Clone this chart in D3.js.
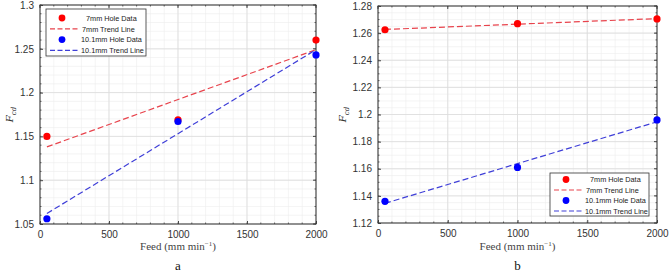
<!DOCTYPE html>
<html><head><meta charset="utf-8">
<script src="https://cdn.jsdelivr.net/npm/d3@7"></script>
<style>body{margin:0;background:#fff}svg{display:block}</style>
</head><body>
<svg id="c" width="669" height="272"></svg>
<script>
const feeds = [50, 1000, 2000];
const trendX = [50, 2000];
// panel a
const a7 = [1.150, 1.169, 1.260];
const a10 = [1.056, 1.167, 1.243];
const a7Trend = [1.138, 1.249];
const a10Trend = [1.062, 1.249];
// panel b
const b7 = [1.2625, 1.267, 1.2705];
const b10 = [1.136, 1.161, 1.196];
const b7Trend = [1.2627, 1.2707];
const b10Trend = [1.1345, 1.1946];
const xTicks = [0, 500, 1000, 1500, 2000];
const aYTicks = [1.05, 1.1, 1.15, 1.2, 1.25, 1.3];
const bYTicks = [1.12, 1.14, 1.16, 1.18, 1.2, 1.22, 1.24, 1.26, 1.28];
const legendLabels = ["7mm Hole Data", "7mm Trend Line", "10.1mm Hole Data", "10.1mm Trend Line"];
const panelLabels = ["a", "b"];

const RED = "#ff0000", BLUE = "#0000ff", RED_T = "#e8434c", BLUE_T = "#3f3fd8";
const svg = d3.select("#c");

function panel(opt) {
  const g = svg.append("g");
  const x = d3.scaleLinear().domain([0, 2000]).range([opt.x0, opt.x1]);
  const y = d3.scaleLinear().domain(opt.yDom).range([opt.y1, opt.y0]);
  g.append("rect").attr("x", opt.x0).attr("y", opt.y0).attr("width", opt.x1 - opt.x0).attr("height", opt.y1 - opt.y0).attr("fill", "#fff");
  const xMinor = d3.range(0, 2001, 100);
  const yMinor = d3.range(opt.yDom[0], opt.yDom[1] + 1e-9, opt.yMinor);
  g.selectAll(".xm").data(xMinor).join("line").attr("x1", d => x(d)).attr("x2", d => x(d)).attr("y1", opt.y0).attr("y2", opt.y1).attr("stroke", "#ececec").attr("stroke-width", 0.6);
  g.selectAll(".ym").data(yMinor).join("line").attr("y1", d => y(d)).attr("y2", d => y(d)).attr("x1", opt.x0).attr("x2", opt.x1).attr("stroke", "#ececec").attr("stroke-width", 0.6);
  g.selectAll(".xM").data(xTicks).join("line").attr("x1", d => x(d)).attr("x2", d => x(d)).attr("y1", opt.y0).attr("y2", opt.y1).attr("stroke", "#dcdcdc").attr("stroke-width", 0.8);
  g.selectAll(".yM").data(opt.yTicks).join("line").attr("y1", d => y(d)).attr("y2", d => y(d)).attr("x1", opt.x0).attr("x2", opt.x1).attr("stroke", "#dcdcdc").attr("stroke-width", 0.8);
  const ax = d3.axisBottom(x).tickValues(xTicks).tickSize(-3).tickPadding(7).tickFormat(d3.format("d"));
  const gx = g.append("g").attr("transform", `translate(0,${opt.y1})`).call(ax);
  const ay = d3.axisLeft(y).tickValues(opt.yTicks).tickSize(-3).tickPadding(6).tickFormat(d3.format("~g"));
  const gy = g.append("g").attr("transform", `translate(${opt.x0},0)`).call(ay);
  [gx, gy].forEach(s => {
    s.select(".domain").remove();
    s.selectAll("line").attr("stroke", "#444");
    s.selectAll("text").attr("font-family", "Liberation Sans, Arial, sans-serif").attr("font-size", 10).attr("fill", "#333");
  });
  g.selectAll(".tt").data(xTicks).join("line").attr("x1", d => x(d)).attr("x2", d => x(d)).attr("y1", opt.y0).attr("y2", opt.y0 + 3).attr("stroke", "#444");
  g.selectAll(".rt").data(opt.yTicks).join("line").attr("y1", d => y(d)).attr("y2", d => y(d)).attr("x1", opt.x1).attr("x2", opt.x1 - 3).attr("stroke", "#444");
  g.selectAll(".mtb").data(xMinor).join("line").attr("x1", d => x(d)).attr("x2", d => x(d)).attr("y1", opt.y1).attr("y2", opt.y1 - 1.5).attr("stroke", "#666");
  g.selectAll(".mtt").data(xMinor).join("line").attr("x1", d => x(d)).attr("x2", d => x(d)).attr("y1", opt.y0).attr("y2", opt.y0 + 1.5).attr("stroke", "#666");
  g.selectAll(".mtl").data(yMinor).join("line").attr("y1", d => y(d)).attr("y2", d => y(d)).attr("x1", opt.x0).attr("x2", opt.x0 + 1.5).attr("stroke", "#666");
  g.selectAll(".mtr").data(yMinor).join("line").attr("y1", d => y(d)).attr("y2", d => y(d)).attr("x1", opt.x1).attr("x2", opt.x1 - 1.5).attr("stroke", "#666");
  g.append("rect").attr("x", opt.x0).attr("y", opt.y0).attr("width", opt.x1 - opt.x0).attr("height", opt.y1 - opt.y0).attr("fill", "none").attr("stroke", "#333").attr("stroke-width", 1);
  const line = d3.line().x(d => x(d[0])).y(d => y(d[1]));
  g.append("path").attr("d", line(d3.zip(trendX, opt.t7))).attr("stroke", RED_T).attr("stroke-width", 1.2).attr("stroke-dasharray", "6,3").attr("fill", "none");
  g.append("path").attr("d", line(d3.zip(trendX, opt.t10))).attr("stroke", BLUE_T).attr("stroke-width", 1.2).attr("stroke-dasharray", "6,3").attr("fill", "none");
  g.selectAll(".p7").data(d3.zip(feeds, opt.d7)).join("circle").attr("cx", d => x(d[0])).attr("cy", d => y(d[1])).attr("r", 3.6).attr("fill", RED);
  g.selectAll(".p10").data(d3.zip(feeds, opt.d10)).join("circle").attr("cx", d => x(d[0])).attr("cy", d => y(d[1])).attr("r", 3.6).attr("fill", BLUE);
  // legend
  const L = opt.leg;
  const lg = g.append("g");
  lg.append("rect").attr("x", L.x).attr("y", L.y).attr("width", L.w).attr("height", L.h).attr("fill", "#fff").attr("stroke", "#333").attr("stroke-width", 0.8);
  const items = [
    {t: "pt", c: RED, dx: 40}, {t: "ln", c: RED_T, dx: 36}, {t: "pt", c: BLUE, dx: 35}, {t: "ln", c: BLUE_T, dx: 35}
  ];
  items.forEach((it, i) => {
    const yy = L.y + L.pad + i * L.step;
    if (it.t === "pt") lg.append("circle").attr("cx", L.x + 16).attr("cy", yy).attr("r", 3.4).attr("fill", it.c);
    else lg.append("line").attr("x1", L.x + 4).attr("x2", L.x + 34).attr("y1", yy).attr("y2", yy).attr("stroke", it.c).attr("stroke-width", 1.2).attr("stroke-dasharray", "5,2.5");
    lg.append("text").attr("x", L.x + it.dx).attr("y", yy + 2.7).text(legendLabels[i])
      .attr("font-family", "Liberation Sans, Arial, sans-serif").attr("font-size", 7.3).attr("fill", "#222");
  });
  const yl = g.append("text").attr("transform", `translate(${opt.ylx},${(opt.y0 + opt.y1) / 2}) rotate(-90)`)
    .attr("text-anchor", "middle").attr("font-family", "DejaVu Serif, Liberation Serif, serif").attr("font-size", 10).attr("fill", "#333");
  yl.append("tspan").attr("font-style", "italic").text("F");
  yl.append("tspan").attr("font-style", "italic").attr("font-size", 7).attr("dy", 2.5).text("cd");
  const cx = (opt.x0 + opt.x1) / 2;
  const xl = g.append("text").attr("x", cx).attr("y", 250).attr("text-anchor", "middle")
    .attr("font-family", "Liberation Serif, DejaVu Serif, serif").attr("font-size", 11).attr("fill", "#444");
  xl.append("tspan").text("Feed (mm min");
  xl.append("tspan").attr("font-size", 7).attr("dy", -4).text("−1");
  xl.append("tspan").attr("dy", 4).text(")");
  g.append("text").attr("x", cx).attr("y", 270).attr("text-anchor", "middle")
    .attr("font-family", "Liberation Serif, DejaVu Serif, serif").attr("font-size", 13).attr("fill", "#111").text(opt.label);
}

panel({x0: 40, x1: 316, y0: 5, y1: 224, yDom: [1.05, 1.3], yTicks: aYTicks, yMinor: 0.01,
  d7: a7, d10: a10, t7: a7Trend, t10: a10Trend, leg: {x: 46, y: 9, w: 100, h: 47, pad: 9, step: 10.8}, ylx: 13, label: panelLabels[0]});
panel({x0: 378, x1: 657, y0: 6, y1: 223, yDom: [1.12, 1.28], yTicks: bYTicks, yMinor: 0.005,
  d7: b7, d10: b10, t7: b7Trend, t10: b10Trend, leg: {x: 550, y: 173, w: 99, h: 43, pad: 6.5, step: 10.5}, ylx: 346, label: panelLabels[1]});
</script>
</body></html>
